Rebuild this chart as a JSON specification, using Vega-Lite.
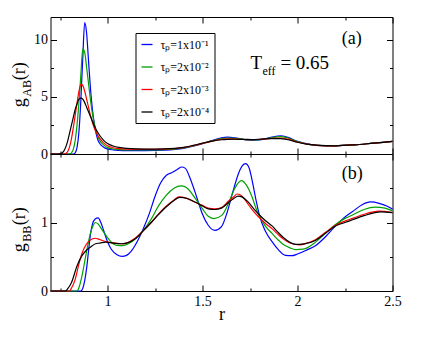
{
"$schema":"https://vega.github.io/schema/vega-lite/v6.json",
"background":"white",
"padding":{"left":10.5,"top":16,"right":5,"bottom":5},
"spacing":0,
"bounds":"flush",
"config":{
"view":{"stroke":"black","strokeWidth":1},
"axis":{"domain":false,"grid":false,"tickColor":"black","tickWidth":1,"labelFont":"Liberation Serif","labelFontSize":14,"labelColor":"black","titleFont":"Liberation Serif","titleFontSize":18,"titleFontWeight":"normal","titleColor":"black","labelFlush":false,"labelOverlap":false},
"text":{"font":"Liberation Serif","color":"black"}
},
"resolve":{"scale":{"x":"independent","color":"independent"},"legend":{"color":"independent"}},
"datasets":{
"ab":[
{"s":"τₚ=1x10⁻¹","r":0.70,"g":0},{"s":"τₚ=1x10⁻¹","r":0.82,"g":0},{"s":"τₚ=1x10⁻¹","r":0.83,"g":0.1},{"s":"τₚ=1x10⁻¹","r":0.84,"g":0.6},{"s":"τₚ=1x10⁻¹","r":0.85,"g":2.0},{"s":"τₚ=1x10⁻¹","r":0.86,"g":4.8},{"s":"τₚ=1x10⁻¹","r":0.87,"g":8.5},{"s":"τₚ=1x10⁻¹","r":0.88,"g":11.5},{"s":"τₚ=1x10⁻¹","r":0.89,"g":10.6},{"s":"τₚ=1x10⁻¹","r":0.90,"g":8.2},{"s":"τₚ=1x10⁻¹","r":0.91,"g":5.8},{"s":"τₚ=1x10⁻¹","r":0.92,"g":4.0},{"s":"τₚ=1x10⁻¹","r":0.93,"g":2.7},{"s":"τₚ=1x10⁻¹","r":0.94,"g":1.8},{"s":"τₚ=1x10⁻¹","r":0.95,"g":1.2},{"s":"τₚ=1x10⁻¹","r":0.96,"g":0.9},{"s":"τₚ=1x10⁻¹","r":0.98,"g":0.6},{"s":"τₚ=1x10⁻¹","r":1.00,"g":0.45},{"s":"τₚ=1x10⁻¹","r":1.03,"g":0.36},{"s":"τₚ=1x10⁻¹","r":1.06,"g":0.32},{"s":"τₚ=1x10⁻¹","r":1.10,"g":0.3},{"s":"τₚ=1x10⁻¹","r":1.20,"g":0.3},{"s":"τₚ=1x10⁻¹","r":1.30,"g":0.34},{"s":"τₚ=1x10⁻¹","r":1.40,"g":0.5},{"s":"τₚ=1x10⁻¹","r":1.45,"g":0.68},{"s":"τₚ=1x10⁻¹","r":1.50,"g":0.9},{"s":"τₚ=1x10⁻¹","r":1.55,"g":1.18},{"s":"τₚ=1x10⁻¹","r":1.60,"g":1.42},{"s":"τₚ=1x10⁻¹","r":1.63,"g":1.48},{"s":"τₚ=1x10⁻¹","r":1.67,"g":1.42},{"s":"τₚ=1x10⁻¹","r":1.72,"g":1.26},{"s":"τₚ=1x10⁻¹","r":1.76,"g":1.2},{"s":"τₚ=1x10⁻¹","r":1.81,"g":1.26},{"s":"τₚ=1x10⁻¹","r":1.86,"g":1.45},{"s":"τₚ=1x10⁻¹","r":1.91,"g":1.6},{"s":"τₚ=1x10⁻¹","r":1.95,"g":1.45},{"s":"τₚ=1x10⁻¹","r":2.00,"g":1.1},{"s":"τₚ=1x10⁻¹","r":2.05,"g":0.88},{"s":"τₚ=1x10⁻¹","r":2.10,"g":0.76},{"s":"τₚ=1x10⁻¹","r":2.15,"g":0.72},{"s":"τₚ=1x10⁻¹","r":2.20,"g":0.72},{"s":"τₚ=1x10⁻¹","r":2.30,"g":0.8},{"s":"τₚ=1x10⁻¹","r":2.40,"g":0.95},{"s":"τₚ=1x10⁻¹","r":2.50,"g":1.1},
{"s":"τₚ=2x10⁻²","r":0.70,"g":0},{"s":"τₚ=2x10⁻²","r":0.80,"g":0},{"s":"τₚ=2x10⁻²","r":0.81,"g":0.1},{"s":"τₚ=2x10⁻²","r":0.82,"g":0.4},{"s":"τₚ=2x10⁻²","r":0.83,"g":1.2},{"s":"τₚ=2x10⁻²","r":0.84,"g":2.6},{"s":"τₚ=2x10⁻²","r":0.85,"g":4.6},{"s":"τₚ=2x10⁻²","r":0.86,"g":7.0},{"s":"τₚ=2x10⁻²","r":0.87,"g":9.2},{"s":"τₚ=2x10⁻²","r":0.88,"g":8.9},{"s":"τₚ=2x10⁻²","r":0.89,"g":7.6},{"s":"τₚ=2x10⁻²","r":0.90,"g":6.2},{"s":"τₚ=2x10⁻²","r":0.91,"g":4.8},{"s":"τₚ=2x10⁻²","r":0.92,"g":3.6},{"s":"τₚ=2x10⁻²","r":0.93,"g":2.7},{"s":"τₚ=2x10⁻²","r":0.94,"g":2.0},{"s":"τₚ=2x10⁻²","r":0.95,"g":1.5},{"s":"τₚ=2x10⁻²","r":0.96,"g":1.15},{"s":"τₚ=2x10⁻²","r":0.98,"g":0.8},{"s":"τₚ=2x10⁻²","r":1.00,"g":0.56},{"s":"τₚ=2x10⁻²","r":1.03,"g":0.44},{"s":"τₚ=2x10⁻²","r":1.06,"g":0.38},{"s":"τₚ=2x10⁻²","r":1.10,"g":0.35},{"s":"τₚ=2x10⁻²","r":1.20,"g":0.35},{"s":"τₚ=2x10⁻²","r":1.30,"g":0.38},{"s":"τₚ=2x10⁻²","r":1.40,"g":0.54},{"s":"τₚ=2x10⁻²","r":1.45,"g":0.7},{"s":"τₚ=2x10⁻²","r":1.50,"g":0.92},{"s":"τₚ=2x10⁻²","r":1.55,"g":1.15},{"s":"τₚ=2x10⁻²","r":1.60,"g":1.35},{"s":"τₚ=2x10⁻²","r":1.63,"g":1.4},{"s":"τₚ=2x10⁻²","r":1.67,"g":1.37},{"s":"τₚ=2x10⁻²","r":1.72,"g":1.27},{"s":"τₚ=2x10⁻²","r":1.76,"g":1.23},{"s":"τₚ=2x10⁻²","r":1.81,"g":1.28},{"s":"τₚ=2x10⁻²","r":1.86,"g":1.42},{"s":"τₚ=2x10⁻²","r":1.91,"g":1.52},{"s":"τₚ=2x10⁻²","r":1.95,"g":1.4},{"s":"τₚ=2x10⁻²","r":2.00,"g":1.08},{"s":"τₚ=2x10⁻²","r":2.05,"g":0.87},{"s":"τₚ=2x10⁻²","r":2.10,"g":0.76},{"s":"τₚ=2x10⁻²","r":2.15,"g":0.72},{"s":"τₚ=2x10⁻²","r":2.20,"g":0.72},{"s":"τₚ=2x10⁻²","r":2.30,"g":0.8},{"s":"τₚ=2x10⁻²","r":2.40,"g":0.95},{"s":"τₚ=2x10⁻²","r":2.50,"g":1.1},
{"s":"τₚ=2x10⁻³","r":0.70,"g":0},{"s":"τₚ=2x10⁻³","r":0.77,"g":0},{"s":"τₚ=2x10⁻³","r":0.78,"g":0.05},{"s":"τₚ=2x10⁻³","r":0.79,"g":0.2},{"s":"τₚ=2x10⁻³","r":0.80,"g":0.6},{"s":"τₚ=2x10⁻³","r":0.81,"g":1.3},{"s":"τₚ=2x10⁻³","r":0.82,"g":2.3},{"s":"τₚ=2x10⁻³","r":0.83,"g":3.4},{"s":"τₚ=2x10⁻³","r":0.84,"g":4.5},{"s":"τₚ=2x10⁻³","r":0.85,"g":5.5},{"s":"τₚ=2x10⁻³","r":0.86,"g":6.1},{"s":"τₚ=2x10⁻³","r":0.87,"g":6.0},{"s":"τₚ=2x10⁻³","r":0.88,"g":5.5},{"s":"τₚ=2x10⁻³","r":0.89,"g":4.8},{"s":"τₚ=2x10⁻³","r":0.90,"g":4.1},{"s":"τₚ=2x10⁻³","r":0.91,"g":3.4},{"s":"τₚ=2x10⁻³","r":0.92,"g":2.8},{"s":"τₚ=2x10⁻³","r":0.93,"g":2.3},{"s":"τₚ=2x10⁻³","r":0.94,"g":1.9},{"s":"τₚ=2x10⁻³","r":0.96,"g":1.35},{"s":"τₚ=2x10⁻³","r":0.98,"g":0.98},{"s":"τₚ=2x10⁻³","r":1.00,"g":0.72},{"s":"τₚ=2x10⁻³","r":1.03,"g":0.55},{"s":"τₚ=2x10⁻³","r":1.06,"g":0.47},{"s":"τₚ=2x10⁻³","r":1.10,"g":0.43},{"s":"τₚ=2x10⁻³","r":1.20,"g":0.4},{"s":"τₚ=2x10⁻³","r":1.30,"g":0.42},{"s":"τₚ=2x10⁻³","r":1.40,"g":0.56},{"s":"τₚ=2x10⁻³","r":1.45,"g":0.72},{"s":"τₚ=2x10⁻³","r":1.50,"g":0.93},{"s":"τₚ=2x10⁻³","r":1.55,"g":1.13},{"s":"τₚ=2x10⁻³","r":1.60,"g":1.28},{"s":"τₚ=2x10⁻³","r":1.63,"g":1.32},{"s":"τₚ=2x10⁻³","r":1.67,"g":1.31},{"s":"τₚ=2x10⁻³","r":1.72,"g":1.27},{"s":"τₚ=2x10⁻³","r":1.76,"g":1.25},{"s":"τₚ=2x10⁻³","r":1.81,"g":1.29},{"s":"τₚ=2x10⁻³","r":1.86,"g":1.37},{"s":"τₚ=2x10⁻³","r":1.91,"g":1.4},{"s":"τₚ=2x10⁻³","r":1.95,"g":1.3},{"s":"τₚ=2x10⁻³","r":2.00,"g":1.05},{"s":"τₚ=2x10⁻³","r":2.05,"g":0.86},{"s":"τₚ=2x10⁻³","r":2.10,"g":0.76},{"s":"τₚ=2x10⁻³","r":2.15,"g":0.72},{"s":"τₚ=2x10⁻³","r":2.20,"g":0.72},{"s":"τₚ=2x10⁻³","r":2.30,"g":0.8},{"s":"τₚ=2x10⁻³","r":2.40,"g":0.95},{"s":"τₚ=2x10⁻³","r":2.50,"g":1.1},
{"s":"τₚ=2x10⁻⁴","r":0.70,"g":0},{"s":"τₚ=2x10⁻⁴","r":0.74,"g":0},{"s":"τₚ=2x10⁻⁴","r":0.76,"g":0.08},{"s":"τₚ=2x10⁻⁴","r":0.77,"g":0.25},{"s":"τₚ=2x10⁻⁴","r":0.78,"g":0.6},{"s":"τₚ=2x10⁻⁴","r":0.79,"g":1.1},{"s":"τₚ=2x10⁻⁴","r":0.80,"g":1.8},{"s":"τₚ=2x10⁻⁴","r":0.81,"g":2.5},{"s":"τₚ=2x10⁻⁴","r":0.82,"g":3.2},{"s":"τₚ=2x10⁻⁴","r":0.83,"g":3.9},{"s":"τₚ=2x10⁻⁴","r":0.84,"g":4.4},{"s":"τₚ=2x10⁻⁴","r":0.85,"g":4.8},{"s":"τₚ=2x10⁻⁴","r":0.86,"g":4.9},{"s":"τₚ=2x10⁻⁴","r":0.87,"g":4.8},{"s":"τₚ=2x10⁻⁴","r":0.88,"g":4.5},{"s":"τₚ=2x10⁻⁴","r":0.89,"g":4.1},{"s":"τₚ=2x10⁻⁴","r":0.90,"g":3.7},{"s":"τₚ=2x10⁻⁴","r":0.91,"g":3.3},{"s":"τₚ=2x10⁻⁴","r":0.92,"g":2.9},{"s":"τₚ=2x10⁻⁴","r":0.93,"g":2.5},{"s":"τₚ=2x10⁻⁴","r":0.94,"g":2.15},{"s":"τₚ=2x10⁻⁴","r":0.96,"g":1.6},{"s":"τₚ=2x10⁻⁴","r":0.98,"g":1.2},{"s":"τₚ=2x10⁻⁴","r":1.00,"g":0.92},{"s":"τₚ=2x10⁻⁴","r":1.03,"g":0.7},{"s":"τₚ=2x10⁻⁴","r":1.06,"g":0.58},{"s":"τₚ=2x10⁻⁴","r":1.10,"g":0.5},{"s":"τₚ=2x10⁻⁴","r":1.20,"g":0.43},{"s":"τₚ=2x10⁻⁴","r":1.30,"g":0.45},{"s":"τₚ=2x10⁻⁴","r":1.40,"g":0.58},{"s":"τₚ=2x10⁻⁴","r":1.45,"g":0.75},{"s":"τₚ=2x10⁻⁴","r":1.50,"g":0.95},{"s":"τₚ=2x10⁻⁴","r":1.55,"g":1.13},{"s":"τₚ=2x10⁻⁴","r":1.60,"g":1.25},{"s":"τₚ=2x10⁻⁴","r":1.63,"g":1.28},{"s":"τₚ=2x10⁻⁴","r":1.67,"g":1.29},{"s":"τₚ=2x10⁻⁴","r":1.72,"g":1.28},{"s":"τₚ=2x10⁻⁴","r":1.76,"g":1.27},{"s":"τₚ=2x10⁻⁴","r":1.81,"g":1.3},{"s":"τₚ=2x10⁻⁴","r":1.86,"g":1.34},{"s":"τₚ=2x10⁻⁴","r":1.91,"g":1.35},{"s":"τₚ=2x10⁻⁴","r":1.95,"g":1.25},{"s":"τₚ=2x10⁻⁴","r":2.00,"g":1.03},{"s":"τₚ=2x10⁻⁴","r":2.05,"g":0.86},{"s":"τₚ=2x10⁻⁴","r":2.10,"g":0.77},{"s":"τₚ=2x10⁻⁴","r":2.15,"g":0.73},{"s":"τₚ=2x10⁻⁴","r":2.20,"g":0.72},{"s":"τₚ=2x10⁻⁴","r":2.30,"g":0.8},{"s":"τₚ=2x10⁻⁴","r":2.40,"g":0.95},{"s":"τₚ=2x10⁻⁴","r":2.50,"g":1.1}
],
"bb":[
{"s":"τₚ=1x10⁻¹","r":0.70,"g":0},{"s":"τₚ=1x10⁻¹","r":0.86,"g":0},{"s":"τₚ=1x10⁻¹","r":0.87,"g":0.04},{"s":"τₚ=1x10⁻¹","r":0.88,"g":0.15},{"s":"τₚ=1x10⁻¹","r":0.89,"g":0.33},{"s":"τₚ=1x10⁻¹","r":0.90,"g":0.58},{"s":"τₚ=1x10⁻¹","r":0.91,"g":0.82},{"s":"τₚ=1x10⁻¹","r":0.92,"g":0.97},{"s":"τₚ=1x10⁻¹","r":0.935,"g":1.05},{"s":"τₚ=1x10⁻¹","r":0.95,"g":1.067},{"s":"τₚ=1x10⁻¹","r":0.965,"g":1.0},{"s":"τₚ=1x10⁻¹","r":0.98,"g":0.88},{"s":"τₚ=1x10⁻¹","r":1.00,"g":0.72},{"s":"τₚ=1x10⁻¹","r":1.02,"g":0.61},{"s":"τₚ=1x10⁻¹","r":1.05,"g":0.53},{"s":"τₚ=1x10⁻¹","r":1.077,"g":0.506},{"s":"τₚ=1x10⁻¹","r":1.10,"g":0.52},{"s":"τₚ=1x10⁻¹","r":1.13,"g":0.6},{"s":"τₚ=1x10⁻¹","r":1.16,"g":0.74},{"s":"τₚ=1x10⁻¹","r":1.19,"g":0.92},{"s":"τₚ=1x10⁻¹","r":1.22,"g":1.13},{"s":"τₚ=1x10⁻¹","r":1.25,"g":1.38},{"s":"τₚ=1x10⁻¹","r":1.28,"g":1.58},{"s":"τₚ=1x10⁻¹","r":1.31,"g":1.69},{"s":"τₚ=1x10⁻¹","r":1.34,"g":1.73},{"s":"τₚ=1x10⁻¹","r":1.37,"g":1.78},{"s":"τₚ=1x10⁻¹","r":1.39,"g":1.81},{"s":"τₚ=1x10⁻¹","r":1.41,"g":1.79},{"s":"τₚ=1x10⁻¹","r":1.43,"g":1.68},{"s":"τₚ=1x10⁻¹","r":1.46,"g":1.45},{"s":"τₚ=1x10⁻¹","r":1.48,"g":1.28},{"s":"τₚ=1x10⁻¹","r":1.50,"g":1.12},{"s":"τₚ=1x10⁻¹","r":1.53,"g":0.96},{"s":"τₚ=1x10⁻¹","r":1.565,"g":0.885},{"s":"τₚ=1x10⁻¹","r":1.60,"g":0.94},{"s":"τₚ=1x10⁻¹","r":1.63,"g":1.15},{"s":"τₚ=1x10⁻¹","r":1.66,"g":1.45},{"s":"τₚ=1x10⁻¹","r":1.69,"g":1.72},{"s":"τₚ=1x10⁻¹","r":1.71,"g":1.83},{"s":"τₚ=1x10⁻¹","r":1.726,"g":1.86},{"s":"τₚ=1x10⁻¹","r":1.745,"g":1.8},{"s":"τₚ=1x10⁻¹","r":1.76,"g":1.63},{"s":"τₚ=1x10⁻¹","r":1.78,"g":1.35},{"s":"τₚ=1x10⁻¹","r":1.80,"g":1.1},{"s":"τₚ=1x10⁻¹","r":1.83,"g":0.88},{"s":"τₚ=1x10⁻¹","r":1.866,"g":0.72},{"s":"τₚ=1x10⁻¹","r":1.90,"g":0.6},{"s":"τₚ=1x10⁻¹","r":1.937,"g":0.52},{"s":"τₚ=1x10⁻¹","r":1.97,"g":0.515},{"s":"τₚ=1x10⁻¹","r":2.00,"g":0.54},{"s":"τₚ=1x10⁻¹","r":2.05,"g":0.6},{"s":"τₚ=1x10⁻¹","r":2.094,"g":0.66},{"s":"τₚ=1x10⁻¹","r":2.15,"g":0.8},{"s":"τₚ=1x10⁻¹","r":2.20,"g":0.95},{"s":"τₚ=1x10⁻¹","r":2.25,"g":1.08},{"s":"τₚ=1x10⁻¹","r":2.29,"g":1.16},{"s":"τₚ=1x10⁻¹","r":2.34,"g":1.26},{"s":"τₚ=1x10⁻¹","r":2.384,"g":1.3},{"s":"τₚ=1x10⁻¹","r":2.43,"g":1.28},{"s":"τₚ=1x10⁻¹","r":2.47,"g":1.24},{"s":"τₚ=1x10⁻¹","r":2.50,"g":1.195},
{"s":"τₚ=2x10⁻²","r":0.70,"g":0},{"s":"τₚ=2x10⁻²","r":0.84,"g":0},{"s":"τₚ=2x10⁻²","r":0.85,"g":0.05},{"s":"τₚ=2x10⁻²","r":0.86,"g":0.15},{"s":"τₚ=2x10⁻²","r":0.87,"g":0.28},{"s":"τₚ=2x10⁻²","r":0.884,"g":0.49},{"s":"τₚ=2x10⁻²","r":0.90,"g":0.72},{"s":"τₚ=2x10⁻²","r":0.91,"g":0.84},{"s":"τₚ=2x10⁻²","r":0.925,"g":0.96},{"s":"τₚ=2x10⁻²","r":0.937,"g":1.0},{"s":"τₚ=2x10⁻²","r":0.95,"g":0.98},{"s":"τₚ=2x10⁻²","r":0.97,"g":0.9},{"s":"τₚ=2x10⁻²","r":1.00,"g":0.78},{"s":"τₚ=2x10⁻²","r":1.03,"g":0.69},{"s":"τₚ=2x10⁻²","r":1.05,"g":0.665},{"s":"τₚ=2x10⁻²","r":1.08,"g":0.662},{"s":"τₚ=2x10⁻²","r":1.11,"g":0.69},{"s":"τₚ=2x10⁻²","r":1.15,"g":0.77},{"s":"τₚ=2x10⁻²","r":1.19,"g":0.89},{"s":"τₚ=2x10⁻²","r":1.23,"g":1.05},{"s":"τₚ=2x10⁻²","r":1.27,"g":1.25},{"s":"τₚ=2x10⁻²","r":1.31,"g":1.4},{"s":"τₚ=2x10⁻²","r":1.35,"g":1.5},{"s":"τₚ=2x10⁻²","r":1.389,"g":1.534},{"s":"τₚ=2x10⁻²","r":1.42,"g":1.5},{"s":"τₚ=2x10⁻²","r":1.46,"g":1.36},{"s":"τₚ=2x10⁻²","r":1.50,"g":1.2},{"s":"τₚ=2x10⁻²","r":1.53,"g":1.09},{"s":"τₚ=2x10⁻²","r":1.56,"g":1.057},{"s":"τₚ=2x10⁻²","r":1.60,"g":1.1},{"s":"τₚ=2x10⁻²","r":1.64,"g":1.3},{"s":"τₚ=2x10⁻²","r":1.67,"g":1.5},{"s":"τₚ=2x10⁻²","r":1.705,"g":1.61},{"s":"τₚ=2x10⁻²","r":1.73,"g":1.55},{"s":"τₚ=2x10⁻²","r":1.76,"g":1.38},{"s":"τₚ=2x10⁻²","r":1.78,"g":1.22},{"s":"τₚ=2x10⁻²","r":1.80,"g":1.09},{"s":"τₚ=2x10⁻²","r":1.83,"g":0.95},{"s":"τₚ=2x10⁻²","r":1.866,"g":0.84},{"s":"τₚ=2x10⁻²","r":1.90,"g":0.74},{"s":"τₚ=2x10⁻²","r":1.93,"g":0.67},{"s":"τₚ=2x10⁻²","r":1.96,"g":0.63},{"s":"τₚ=2x10⁻²","r":1.99,"g":0.605},{"s":"τₚ=2x10⁻²","r":2.03,"g":0.61},{"s":"τₚ=2x10⁻²","r":2.094,"g":0.71},{"s":"τₚ=2x10⁻²","r":2.15,"g":0.85},{"s":"τₚ=2x10⁻²","r":2.20,"g":0.97},{"s":"τₚ=2x10⁻²","r":2.25,"g":1.06},{"s":"τₚ=2x10⁻²","r":2.29,"g":1.11},{"s":"τₚ=2x10⁻²","r":2.35,"g":1.19},{"s":"τₚ=2x10⁻²","r":2.41,"g":1.224},{"s":"τₚ=2x10⁻²","r":2.46,"g":1.21},{"s":"τₚ=2x10⁻²","r":2.50,"g":1.17},
{"s":"τₚ=2x10⁻³","r":0.70,"g":0},{"s":"τₚ=2x10⁻³","r":0.80,"g":0},{"s":"τₚ=2x10⁻³","r":0.81,"g":0.04},{"s":"τₚ=2x10⁻³","r":0.83,"g":0.17},{"s":"τₚ=2x10⁻³","r":0.849,"g":0.39},{"s":"τₚ=2x10⁻³","r":0.866,"g":0.55},{"s":"τₚ=2x10⁻³","r":0.884,"g":0.66},{"s":"τₚ=2x10⁻³","r":0.90,"g":0.72},{"s":"τₚ=2x10⁻³","r":0.919,"g":0.76},{"s":"τₚ=2x10⁻³","r":0.935,"g":0.77},{"s":"τₚ=2x10⁻³","r":0.95,"g":0.76},{"s":"τₚ=2x10⁻³","r":0.98,"g":0.73},{"s":"τₚ=2x10⁻³","r":1.01,"g":0.71},{"s":"τₚ=2x10⁻³","r":1.04,"g":0.70},{"s":"τₚ=2x10⁻³","r":1.07,"g":0.69},{"s":"τₚ=2x10⁻³","r":1.10,"g":0.70},{"s":"τₚ=2x10⁻³","r":1.15,"g":0.78},{"s":"τₚ=2x10⁻³","r":1.19,"g":0.885},{"s":"τₚ=2x10⁻³","r":1.23,"g":1.0},{"s":"τₚ=2x10⁻³","r":1.27,"g":1.13},{"s":"τₚ=2x10⁻³","r":1.31,"g":1.24},{"s":"τₚ=2x10⁻³","r":1.35,"g":1.33},{"s":"τₚ=2x10⁻³","r":1.375,"g":1.376},{"s":"τₚ=2x10⁻³","r":1.41,"g":1.36},{"s":"τₚ=2x10⁻³","r":1.45,"g":1.31},{"s":"τₚ=2x10⁻³","r":1.50,"g":1.25},{"s":"τₚ=2x10⁻³","r":1.53,"g":1.21},{"s":"τₚ=2x10⁻³","r":1.565,"g":1.2},{"s":"τₚ=2x10⁻³","r":1.60,"g":1.22},{"s":"τₚ=2x10⁻³","r":1.64,"g":1.32},{"s":"τₚ=2x10⁻³","r":1.665,"g":1.376},{"s":"τₚ=2x10⁻³","r":1.682,"g":1.416},{"s":"τₚ=2x10⁻³","r":1.70,"g":1.4},{"s":"τₚ=2x10⁻³","r":1.73,"g":1.31},{"s":"τₚ=2x10⁻³","r":1.76,"g":1.19},{"s":"τₚ=2x10⁻³","r":1.796,"g":1.08},{"s":"τₚ=2x10⁻³","r":1.83,"g":0.99},{"s":"τₚ=2x10⁻³","r":1.866,"g":0.91},{"s":"τₚ=2x10⁻³","r":1.90,"g":0.82},{"s":"τₚ=2x10⁻³","r":1.93,"g":0.75},{"s":"τₚ=2x10⁻³","r":1.96,"g":0.7},{"s":"τₚ=2x10⁻³","r":2.007,"g":0.674},{"s":"τₚ=2x10⁻³","r":2.05,"g":0.7},{"s":"τₚ=2x10⁻³","r":2.094,"g":0.748},{"s":"τₚ=2x10⁻³","r":2.15,"g":0.86},{"s":"τₚ=2x10⁻³","r":2.20,"g":0.96},{"s":"τₚ=2x10⁻³","r":2.25,"g":1.02},{"s":"τₚ=2x10⁻³","r":2.29,"g":1.06},{"s":"τₚ=2x10⁻³","r":2.35,"g":1.12},{"s":"τₚ=2x10⁻³","r":2.43,"g":1.165},{"s":"τₚ=2x10⁻³","r":2.50,"g":1.145},
{"s":"τₚ=2x10⁻⁴","r":0.70,"g":0},{"s":"τₚ=2x10⁻⁴","r":0.78,"g":0},{"s":"τₚ=2x10⁻⁴","r":0.79,"g":0.03},{"s":"τₚ=2x10⁻⁴","r":0.81,"g":0.12},{"s":"τₚ=2x10⁻⁴","r":0.84,"g":0.37},{"s":"τₚ=2x10⁻⁴","r":0.866,"g":0.516},{"s":"τₚ=2x10⁻⁴","r":0.884,"g":0.58},{"s":"τₚ=2x10⁻⁴","r":0.91,"g":0.64},{"s":"τₚ=2x10⁻⁴","r":0.937,"g":0.69},{"s":"τₚ=2x10⁻⁴","r":0.96,"g":0.7},{"s":"τₚ=2x10⁻⁴","r":0.99,"g":0.713},{"s":"τₚ=2x10⁻⁴","r":1.03,"g":0.7},{"s":"τₚ=2x10⁻⁴","r":1.07,"g":0.69},{"s":"τₚ=2x10⁻⁴","r":1.10,"g":0.7},{"s":"τₚ=2x10⁻⁴","r":1.15,"g":0.77},{"s":"τₚ=2x10⁻⁴","r":1.19,"g":0.885},{"s":"τₚ=2x10⁻⁴","r":1.23,"g":1.0},{"s":"τₚ=2x10⁻⁴","r":1.27,"g":1.12},{"s":"τₚ=2x10⁻⁴","r":1.31,"g":1.23},{"s":"τₚ=2x10⁻⁴","r":1.35,"g":1.32},{"s":"τₚ=2x10⁻⁴","r":1.38,"g":1.366},{"s":"τₚ=2x10⁻⁴","r":1.42,"g":1.35},{"s":"τₚ=2x10⁻⁴","r":1.46,"g":1.3},{"s":"τₚ=2x10⁻⁴","r":1.50,"g":1.24},{"s":"τₚ=2x10⁻⁴","r":1.53,"g":1.2},{"s":"τₚ=2x10⁻⁴","r":1.565,"g":1.19},{"s":"τₚ=2x10⁻⁴","r":1.60,"g":1.21},{"s":"τₚ=2x10⁻⁴","r":1.64,"g":1.3},{"s":"τₚ=2x10⁻⁴","r":1.665,"g":1.35},{"s":"τₚ=2x10⁻⁴","r":1.687,"g":1.386},{"s":"τₚ=2x10⁻⁴","r":1.71,"g":1.37},{"s":"τₚ=2x10⁻⁴","r":1.74,"g":1.3},{"s":"τₚ=2x10⁻⁴","r":1.77,"g":1.2},{"s":"τₚ=2x10⁻⁴","r":1.80,"g":1.11},{"s":"τₚ=2x10⁻⁴","r":1.83,"g":1.03},{"s":"τₚ=2x10⁻⁴","r":1.866,"g":0.95},{"s":"τₚ=2x10⁻⁴","r":1.90,"g":0.85},{"s":"τₚ=2x10⁻⁴","r":1.93,"g":0.77},{"s":"τₚ=2x10⁻⁴","r":1.96,"g":0.71},{"s":"τₚ=2x10⁻⁴","r":1.99,"g":0.68},{"s":"τₚ=2x10⁻⁴","r":2.03,"g":0.685},{"s":"τₚ=2x10⁻⁴","r":2.094,"g":0.737},{"s":"τₚ=2x10⁻⁴","r":2.15,"g":0.85},{"s":"τₚ=2x10⁻⁴","r":2.20,"g":0.95},{"s":"τₚ=2x10⁻⁴","r":2.25,"g":1.0},{"s":"τₚ=2x10⁻⁴","r":2.29,"g":1.04},{"s":"τₚ=2x10⁻⁴","r":2.35,"g":1.1},{"s":"τₚ=2x10⁻⁴","r":2.44,"g":1.155},{"s":"τₚ=2x10⁻⁴","r":2.50,"g":1.145}
]
},
"vconcat":[
{
"width":342,"height":137,
"resolve":{"axis":{"x":"independent","y":"independent"}},
"layer":[
{
"data":{"name":"ab"},
"mark":{"type":"line","strokeWidth":1.2,"interpolate":"monotone"},
"encoding":{
"x":{"field":"r","type":"quantitative","scale":{"domain":[0.7,2.5],"nice":false,"zero":false},"axis":{"orient":"bottom","values":[0.75,1,1.25,1.5,1.75,2,2.25,2.5],"labels":false,"title":null,"tickSize":{"condition":{"test":"(datum.value*2)%1==0","value":-6},"value":-3}}},
"y":{"field":"g","type":"quantitative","scale":{"domain":[0,12],"nice":false},"axis":{"orient":"left","values":[0,2.5,5,7.5,10],"labelExpr":"datum.value%5==0 ? ''+datum.value : ''","labelPadding":9,"title":null,"tickSize":{"condition":{"test":"datum.value%5==0","value":-6},"value":-3}}},
"color":{"field":"s","type":"nominal","scale":{"domain":["τₚ=1x10⁻¹","τₚ=2x10⁻²","τₚ=2x10⁻³","τₚ=2x10⁻⁴"],"range":["#0000ff","#00a000","#ff0000","#000000"]},
"legend":{"title":null,"orient":"none","legendX":85,"legendY":16,"strokeColor":"black","fillColor":"white","padding":5,"symbolType":"stroke","symbolSize":121,"symbolStrokeWidth":1.3,"labelFont":"Liberation Serif","labelFontSize":12,"labelColor":"black","labelOffset":7,"rowPadding":9.5}}
}
},
{
"data":{"values":[{}]},
"mark":{"type":"text","text":"(a)","fontSize":18,"align":"left","baseline":"alphabetic"},
"encoding":{
"x":{"datum":2.233,"type":"quantitative","axis":{"orient":"top","values":[0.75,1,1.25,1.5,1.75,2,2.25,2.5],"labels":false,"title":null,"tickSize":{"condition":{"test":"(datum.value*2)%1==0","value":-6},"value":-3}}},
"y":{"datum":9.6,"type":"quantitative","axis":{"orient":"right","values":[0,2.5,5,7.5,10],"labels":false,"title":null,"tickSize":{"condition":{"test":"datum.value%5==0","value":-6},"value":-3}}}
}
},
{"data":{"values":[{}]},"mark":{"type":"text","text":"T","fontSize":19,"align":"left","baseline":"alphabetic"},"encoding":{"x":{"datum":1.752,"type":"quantitative","axis":null},"y":{"datum":7.41,"type":"quantitative","axis":null}}},
{"data":{"values":[{}]},"mark":{"type":"text","text":"eff","fontSize":12,"align":"left","baseline":"alphabetic","dx":12,"dy":6},"encoding":{"x":{"datum":1.752,"type":"quantitative","axis":null},"y":{"datum":7.41,"type":"quantitative","axis":null}}},
{"data":{"values":[{}]},"mark":{"type":"text","text":"= 0.65","fontSize":19,"align":"left","baseline":"alphabetic","dx":30},"encoding":{"x":{"datum":1.752,"type":"quantitative","axis":null},"y":{"datum":7.41,"type":"quantitative","axis":null}}},
{"data":{"values":[{}]},"mark":{"type":"text","text":"g","fontSize":18,"angle":270,"align":"left","baseline":"alphabetic"},"encoding":{"x":{"datum":0.567,"type":"quantitative","axis":null},"y":{"datum":4.1,"type":"quantitative","axis":null}}},
{"data":{"values":[{}]},"mark":{"type":"text","text":"AB","fontSize":12,"angle":270,"align":"left","baseline":"alphabetic","dx":10.5,"dy":6},"encoding":{"x":{"datum":0.567,"type":"quantitative","axis":null},"y":{"datum":4.1,"type":"quantitative","axis":null}}},
{"data":{"values":[{}]},"mark":{"type":"text","text":"(r)","fontSize":18,"angle":270,"align":"left","baseline":"alphabetic","dx":27},"encoding":{"x":{"datum":0.567,"type":"quantitative","axis":null},"y":{"datum":4.1,"type":"quantitative","axis":null}}}
]
},
{
"width":342,"height":137,
"resolve":{"axis":{"x":"independent","y":"independent"}},
"layer":[
{
"data":{"name":"bb"},
"mark":{"type":"line","strokeWidth":1.2,"interpolate":"monotone"},
"encoding":{
"x":{"field":"r","type":"quantitative","scale":{"domain":[0.7,2.5],"nice":false,"zero":false},"axis":{"orient":"bottom","values":[0.75,1,1.25,1.5,1.75,2,2.25,2.5],"labelExpr":"(datum.value*2)%1==0 ? ''+datum.value : ''","labelPadding":9,"title":"r","titlePadding":-6,"tickSize":{"condition":{"test":"(datum.value*2)%1==0","value":-6},"value":-3}}},
"y":{"field":"g","type":"quantitative","scale":{"domain":[0,2],"nice":false},"axis":{"orient":"left","values":[0,0.5,1,1.5],"labelExpr":"datum.value%1==0 ? ''+datum.value : ''","labelPadding":9,"title":null,"tickSize":{"condition":{"test":"datum.value%1==0","value":-6},"value":-3}}},
"color":{"field":"s","type":"nominal","scale":{"domain":["τₚ=1x10⁻¹","τₚ=2x10⁻²","τₚ=2x10⁻³","τₚ=2x10⁻⁴"],"range":["#0000ff","#00a000","#ff0000","#000000"]},"legend":null}
}
},
{
"data":{"values":[{}]},
"mark":{"type":"text","text":"(b)","fontSize":18,"align":"left","baseline":"alphabetic"},
"encoding":{
"x":{"datum":2.233,"type":"quantitative","axis":{"orient":"top","values":[0.75,1,1.25,1.5,1.75,2,2.25,2.5],"labels":false,"title":null,"tickSize":{"condition":{"test":"(datum.value*2)%1==0","value":-6},"value":-3}}},
"y":{"datum":1.637,"type":"quantitative","axis":{"orient":"right","values":[0,0.5,1,1.5],"labels":false,"title":null,"tickSize":{"condition":{"test":"datum.value%1==0","value":-6},"value":-3}}}
}
},
{"data":{"values":[{}]},"mark":{"type":"text","text":"g","fontSize":18,"angle":270,"align":"left","baseline":"alphabetic"},"encoding":{"x":{"datum":0.567,"type":"quantitative","axis":null},"y":{"datum":0.565,"type":"quantitative","axis":null}}},
{"data":{"values":[{}]},"mark":{"type":"text","text":"BB","fontSize":12,"angle":270,"align":"left","baseline":"alphabetic","dx":10.5,"dy":6},"encoding":{"x":{"datum":0.567,"type":"quantitative","axis":null},"y":{"datum":0.565,"type":"quantitative","axis":null}}},
{"data":{"values":[{}]},"mark":{"type":"text","text":"(r)","fontSize":18,"angle":270,"align":"left","baseline":"alphabetic","dx":27},"encoding":{"x":{"datum":0.567,"type":"quantitative","axis":null},"y":{"datum":0.565,"type":"quantitative","axis":null}}}
]
}
]
}
